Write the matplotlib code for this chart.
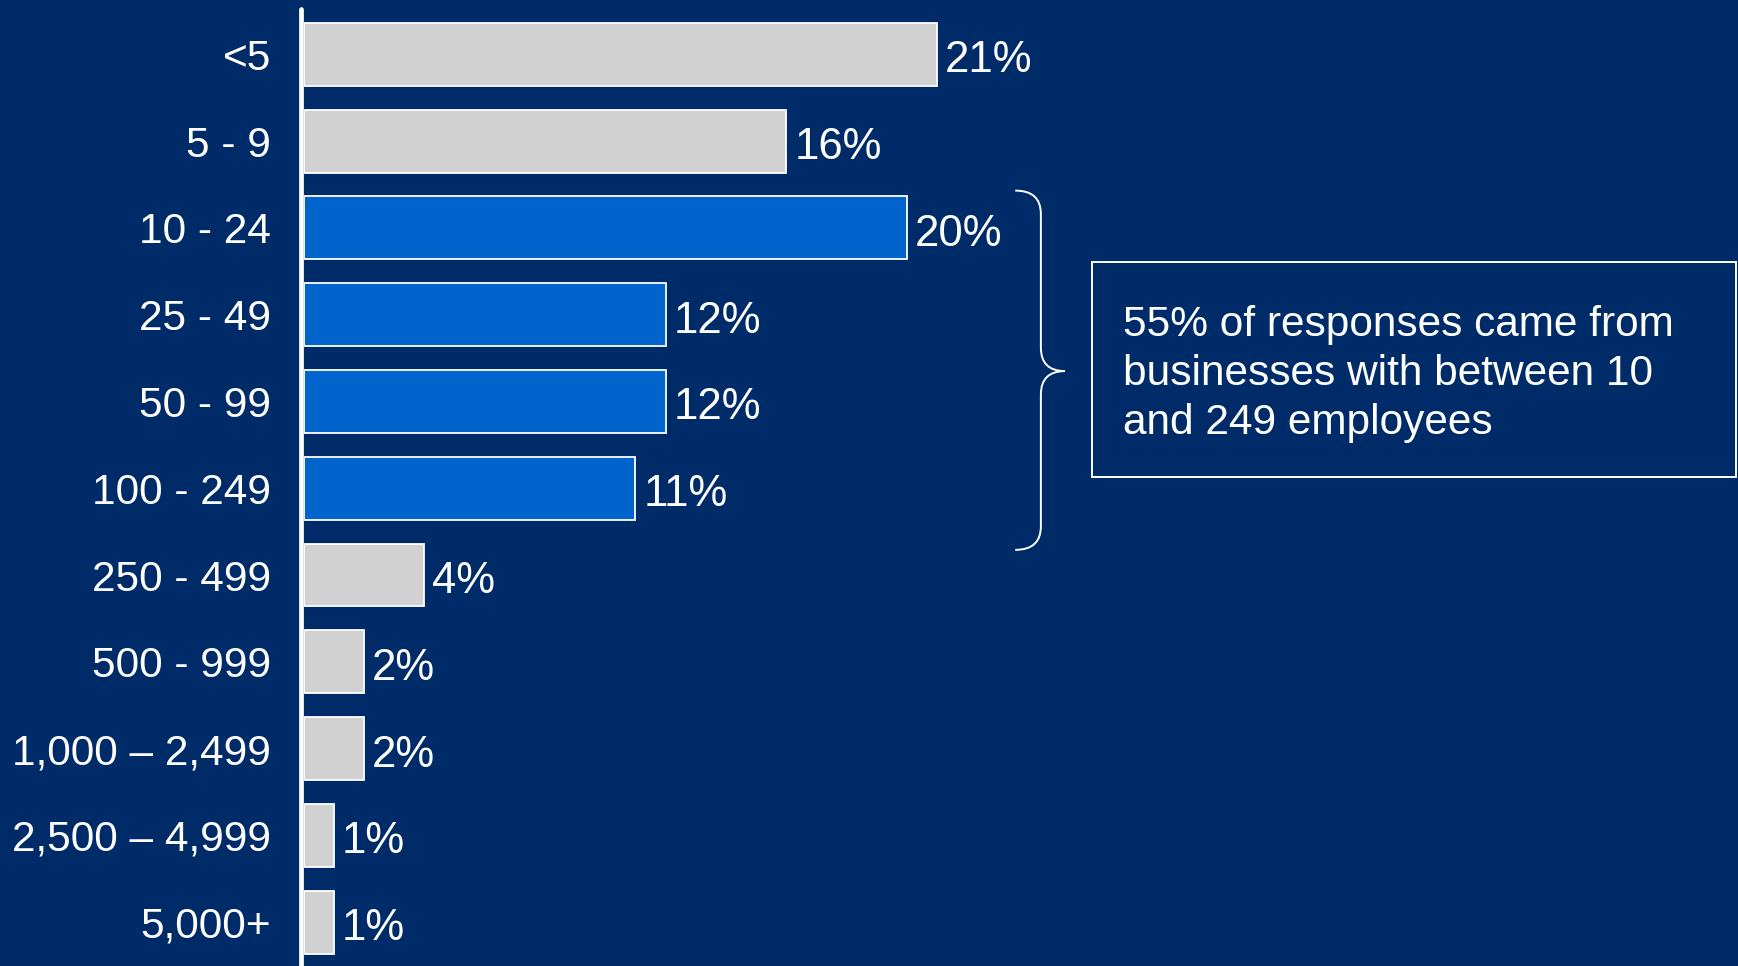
import matplotlib.pyplot as plt
from matplotlib.path import Path
from matplotlib.patches import PathPatch, Rectangle

sizes = ['<5', '5 - 9', '10 - 24', '25 - 49', '50 - 99', '100 - 249', '250 - 499',
         '500 - 999', '1,000 – 2,499', '2,500 – 4,999', '5,000+']
shares = [21, 16, 20, 12, 12, 11, 4, 2, 2, 1, 1]
highlight = ['10 - 24', '25 - 49', '50 - 99', '100 - 249']
note = '55% of responses came from\nbusinesses with between 10\nand 249 employees'

bg = '#002B69'
grey = '#D1D1D1'
blue = '#0064CC'

plt.rcParams['font.family'] = ['Liberation Sans', 'DejaVu Sans']

fig = plt.figure(figsize=(17.38, 9.66), dpi=100, facecolor=bg)
ax = fig.add_axes([303.7 / 1738, 0, 1 - 303.7 / 1738, 1])
ax.set_facecolor(bg)

ypos = list(range(len(sizes)))
colors = [blue if s in highlight else grey for s in sizes]
ax.barh(ypos, shares, height=0.725, color=colors, edgecolor='white', linewidth=1.3)

for y, v in zip(ypos, shares):
    ax.text(v + 0.27, y + 0.075, f'{v}%', color='white', fontsize=31.5,
            va='center', ha='left')

ax.set_xlim(0, (1738 - 303.7) / 30.15)
ax.set_ylim(10.505, -0.626)
ax.set_yticks(ypos)
ax.set_yticklabels(sizes)
ax.tick_params(axis='y', length=0, pad=23.5, labelsize=30.5, labelcolor='white')
ax.set_xticks([])
for sp in ax.spines.values():
    sp.set_visible(False)

# vertical baseline with rounded top
ax.plot([-0.08, -0.08], [-0.52, 10.6], color='white', lw=3.4,
        solid_capstyle='round', clip_on=False)

# curly brace around the 10-249 group
x0, x1, x2 = 23.6, 24.45, 25.25
ytop, ytip, ybot, r = 1.57, 3.65, 5.71, 0.27
verts = [(x0, ytop), (x1, ytop), (x1, ytop + r),
         (x1, ytip - r), (x1, ytip), (x2, ytip),
         (x1, ytip), (x1, ytip + r),
         (x1, ybot - r), (x1, ybot), (x0, ybot)]
codes = [Path.MOVETO, Path.CURVE3, Path.CURVE3,
         Path.LINETO, Path.CURVE3, Path.CURVE3,
         Path.CURVE3, Path.CURVE3,
         Path.LINETO, Path.CURVE3, Path.CURVE3]
ax.add_patch(PathPatch(Path(verts, codes), facecolor='none', edgecolor='white',
                       lw=1.4, clip_on=False))

# note box
fig.patches.append(Rectangle((1092 / 1738, 1 - 476.6 / 966), 644 / 1738, 215 / 966,
                             transform=fig.transFigure, facecolor='none',
                             edgecolor='white', lw=1.4))
fig.text(1123 / 1738, 1 - 374 / 966, note, color='white', fontsize=30.5,
         va='center', ha='left', linespacing=1.3)

fig.savefig('out.png', dpi=100, facecolor=bg)
